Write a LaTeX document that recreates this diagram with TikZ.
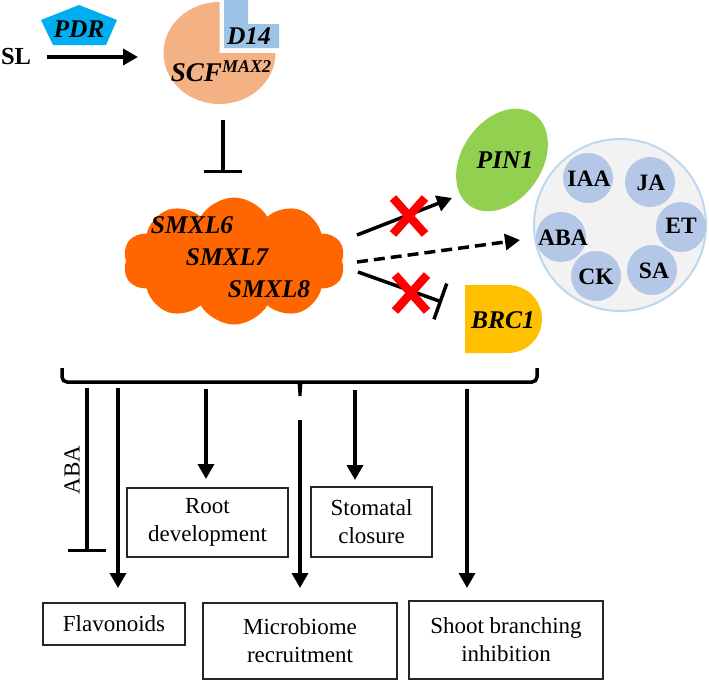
\documentclass[tikz,border=0pt]{standalone}
\usepackage{fontspec}
\setmainfont{Liberation Serif}
\usetikzlibrary{arrows.meta,shapes.symbols,shapes.geometric}
\definecolor{pdrblue}{RGB}{0,174,239}
\definecolor{scfcol}{RGB}{244,177,131}
\definecolor{dcol}{RGB}{157,195,230}
\definecolor{smxl}{RGB}{255,102,0}
\definecolor{pincol}{RGB}{146,208,80}
\definecolor{brccol}{RGB}{255,192,0}
\definecolor{hormcol}{RGB}{180,199,231}
\definecolor{outerfill}{RGB}{242,242,242}
\definecolor{outerline}{RGB}{189,215,238}
\definecolor{xred}{RGB}{255,0,0}
\tikzset{
  bi/.style={font=\fontsize{25.5}{30}\selectfont\bfseries\itshape, inner sep=0pt},
  horm/.style={font=\fontsize{23.5}{27}\selectfont\bfseries, inner sep=0pt},
  hcirc/.style={circle, fill=hormcol, minimum size=50pt, inner sep=0pt},
  outbox/.style={draw=black!85, line width=1.3pt, inner sep=0pt, align=center,
     font=\fontsize{23}{28}\selectfont},
  arr/.style={line width=3.5pt, -{Triangle[width=16pt,length=15pt]}},
  inh/.style={line width=3.5pt, -{Bar[width=38pt]}},
  redx/.style={line width=8.5pt, xred},
}
\begin{document}
\begin{tikzpicture}[x=1pt,y=-1pt]
\useasboundingbox (0,0) rectangle (709,680);
% ---- top: SL, PDR, SCF, D14
\node[font=\fontsize{24.5}{28}\selectfont\bfseries, inner sep=0pt] (sl) at (16,57) {SL};
\coordinate (slstart) at (47,57);
\coordinate (slend) at (138,57);
\draw[arr] (slstart) -- (slend);
\fill[pdrblue] (79,5) -- (117,20) -- (106,45) -- (53,45) -- (41,20) -- cycle;
\node[bi] (pdr) at (79,29) {PDR};
% SCF pie
\fill[scfcol] (219.5,53) -- (275.5,53) arc[start angle=0, end angle=270, x radius=56, y radius=51] -- cycle;
% D14 L-shape
\fill[dcol] (224,0) -- (248,0) -- (248,24) -- (279,24) -- (279,48) -- (224,48) -- cycle;
\node[bi] (d14) at (249,36) {D14};
\node[font=\fontsize{27}{30}\selectfont\bfseries\itshape, inner sep=0pt, anchor=base] (scf) at (221,81) {SCF\raisebox{9pt}{\fontsize{18}{20}\selectfont MAX2}};
\coordinate (scfout) at (223,120);
\coordinate (cloudin) at (223,173);
\draw[inh] (scfout) -- (cloudin);
% ---- cloud
\node[cloud, cloud puffs=10, cloud puff arc=120, cloud ignores aspect, fill=smxl,
      minimum width=222pt, minimum height=127pt, inner sep=0pt] (cloud) at (234,261) {};
\node[bi] (s6) at (192,225) {SMXL6};
\node[bi] (s7) at (227,257) {SMXL7};
\node[bi] (s8) at (269,289) {SMXL8};
% ---- PIN1
\node[ellipse, fill=pincol, rotate=55, minimum width=112pt, minimum height=80pt, inner sep=0pt] (pin) at (502,160) {};
\node[bi] (pinlab) at (505,160) {PIN1};
% ---- BRC1
\fill[brccol] (465,285) -- (508,285) arc[start angle=-90, end angle=90, radius=34] -- (465,353) -- cycle;
\node[bi] (brc) at (503,320) {BRC1};
% ---- hormones
\node[circle, fill=outerfill, draw=outerline, line width=2pt, minimum size=172pt, inner sep=0pt] (horm) at (620,225) {};
\node[hcirc] (iaa) at (588,178) {};
\node[hcirc] (ja) at (650,182) {};
\node[hcirc] (et) at (681,227) {};
\node[hcirc] (aba) at (561,237) {};
\node[hcirc] (ck) at (596,276) {};
\node[hcirc] (sa) at (652,270) {};
\node[horm] (tiaa) at (589,179) {IAA};
\node[horm] (tja) at (651,183) {JA};
\node[horm] (tet) at (681,226) {ET};
\node[horm] (taba) at (563,238) {ABA};
\node[horm] (tck) at (596,277) {CK};
\node[horm] (tsa) at (654,271) {SA};
% ---- connectors from cloud
\coordinate (c1) at (357,235);
\coordinate (p1) at (452,198);
\draw[arr] (c1) -- (p1);
\draw[redx] (393,198) -- (425,234);
\draw[redx] (425,198) -- (393,234);
\coordinate (c2) at (357,262);
\coordinate (h1) at (520,240);
\draw[line width=3.5pt, dash pattern=on 11pt off 6pt, -{Triangle[width=16pt,length=15pt]}] (c2) -- (h1);
\coordinate (c3) at (358,272);
\coordinate (b1) at (442,302);
\draw[inh] (c3) -- (b1);
\draw[redx] (395,275) -- (427,311);
\draw[redx] (427,275) -- (395,311);
% ---- bracket
\draw[line width=3.5pt, rounded corners=5pt] (62,368) -- (62,382) -- (537,382) -- (537,368);
\fill (297.5,382) -- (302.5,382) -- (301.5,396) -- (298.5,396) -- cycle;
% ---- bottom boxes
\node[outbox, minimum width=161pt, minimum height=69pt] (root) at (207.5,522.5) {Root\\development};
\node[outbox, minimum width=121pt, minimum height=70pt] (stom) at (371.5,522) {Stomatal\\closure};
\node[outbox, minimum width=142pt, minimum height=42pt] (flav) at (114,624) {Flavonoids};
\node[outbox, minimum width=194pt, minimum height=76pt] (micro) at (300,641) {Microbiome\\recruitment};
\node[outbox, minimum width=194pt, minimum height=78pt] (shoot) at (506,640) {Shoot branching\\inhibition};
% ---- bottom arrows
\coordinate (abatop) at (87,388);
\coordinate (abaend) at (87,552);
\draw[inh] (abatop) -- (abaend);
\node[font=\fontsize{23}{27}\selectfont, rotate=90, inner sep=0pt] (abalab) at (72,470) {ABA};
\coordinate (flavtop) at (118,388);
\coordinate (flavend) at (118,588);
\draw[arr] (flavtop) -- (flavend);
\coordinate (roottop) at (206,389);
\coordinate (rootend) at (206,479);
\draw[arr] (roottop) -- (rootend);
\coordinate (stomtop) at (355,390);
\coordinate (stomend) at (355,480);
\draw[arr] (stomtop) -- (stomend);
\coordinate (microtop) at (300,420);
\coordinate (microend) at (300,588);
\draw[arr] (microtop) -- (microend);
\coordinate (shoottop) at (467,389);
\coordinate (shootend) at (467,588);
\draw[arr] (shoottop) -- (shootend);
\end{tikzpicture}
\end{document}
